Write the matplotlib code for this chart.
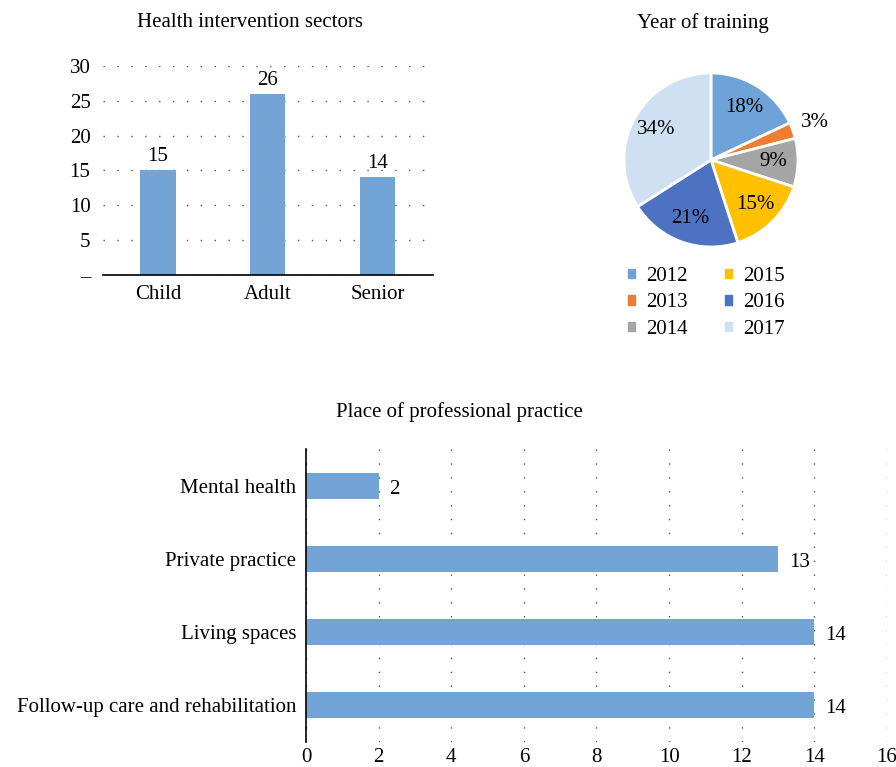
import numpy as np
import matplotlib
matplotlib.use('Agg')
import matplotlib.pyplot as plt

plt.rcParams['font.family'] = ['Liberation Serif', 'DejaVu Serif']
FS = 15
plt.rcParams['font.size'] = FS

# data
sectors = ['Child', 'Adult', 'Senior']
sector_counts = [15, 26, 14]

years = ['2012', '2013', '2014', '2015', '2016', '2017']
year_pct = [18, 3, 9, 15, 21, 34]
year_colors = ['#6FA3D8', '#ED7D31', '#A5A5A5', '#FFC000', '#4E72C2', '#CFE0F3']

places = ['Follow-up care and rehabilitation', 'Living spaces', 'Private practice', 'Mental health']
place_counts = [14, 14, 13, 2]

bar_color = '#72A4D5'
grid_kw = dict(color='#555555', linestyle=(0, (1, 9)), linewidth=1.0)

fig = plt.figure(figsize=(8.96, 7.67), dpi=100)

# --- top left: bar chart
ax1 = fig.add_axes([0.115, 0.6415, 0.368, 0.2725])
x = np.arange(len(sectors))
ax1.bar(x, sector_counts, width=0.32, color=bar_color, zorder=2)
for xi, v in zip(x, sector_counts):
    ax1.text(xi, v + 0.6, str(v), ha='center', va='bottom', fontsize=FS)
ax1.set_xlim(-0.5, 2.5)
ax1.set_ylim(0, 30)
ax1.set_yticks(range(0, 31, 5))
ax1.set_yticklabels(['–'] + [str(t) for t in range(5, 31, 5)])
ax1.set_xticks(x)
ax1.set_xticklabels(sectors)
ax1.yaxis.grid(True, **grid_kw)
ax1.set_axisbelow(True)
for s in ['top', 'right', 'left']:
    ax1.spines[s].set_visible(False)
ax1.spines['bottom'].set_linewidth(1.2)
ax1.tick_params(axis='both', length=0, labelsize=FS)
ax1.tick_params(axis='y', pad=9)
ax1.tick_params(axis='x', pad=7)
fig.text(0.279, 0.971, 'Health intervention sectors', ha='center', va='center', fontsize=FS)

# --- top right: pie chart
ax2 = fig.add_axes([0.6964, 0.678, 0.1942, 0.2269])
wedges, _ = ax2.pie(year_pct, colors=year_colors, startangle=90, counterclock=False,
                    wedgeprops=dict(edgecolor='white', linewidth=2))
for w, p in zip(wedges, year_pct):
    ang = np.deg2rad((w.theta1 + w.theta2) / 2)
    r = 1.27 if p < 5 else 0.72
    ax2.text(r * np.cos(ang), r * np.sin(ang), f'{p}%', ha='center', va='center', fontsize=FS)
ax2.set_xlim(-1, 1)
ax2.set_ylim(-1, 1)
ax2.set_aspect('equal')
fig.text(0.785, 0.970, 'Year of training', ha='center', va='center', fontsize=FS)
handles = [plt.Rectangle((0, 0), 1, 1, color=c) for c in year_colors]
fig.legend(handles, years, loc='upper left', bbox_to_anchor=(0.6847, 0.671), ncol=2,
           frameon=False, fontsize=FS, handlelength=0.34, handleheight=0.34,
           handletextpad=0.53, columnspacing=1.78, labelspacing=0.36, borderpad=0.2)

# --- bottom: horizontal bar chart
ax3 = fig.add_axes([0.3415, 0.0332, 0.6484, 0.381])
y = np.arange(len(places))
ax3.barh(y, place_counts, height=0.36, color=bar_color, zorder=2)
for yi, v in zip(y, place_counts):
    ax3.text(v + 0.3, yi - 0.05, str(v), ha='left', va='center', fontsize=FS)
ax3.set_xlim(0, 16)
ax3.set_ylim(-0.5, 3.5)
ax3.set_xticks(range(0, 17, 2))
ax3.set_yticks(y)
ax3.set_yticklabels(places)
ax3.xaxis.grid(True, **grid_kw)
ax3.set_axisbelow(True)
for s in ['top', 'right', 'bottom']:
    ax3.spines[s].set_visible(False)
ax3.spines['left'].set_linewidth(1.2)
ax3.tick_params(axis='both', length=0, labelsize=FS)
ax3.tick_params(axis='x', pad=5)
ax3.tick_params(axis='y', pad=7)
fig.text(0.513, 0.463, 'Place of professional practice', ha='center', va='center', fontsize=FS)

fig.savefig('out.png', dpi=100)
